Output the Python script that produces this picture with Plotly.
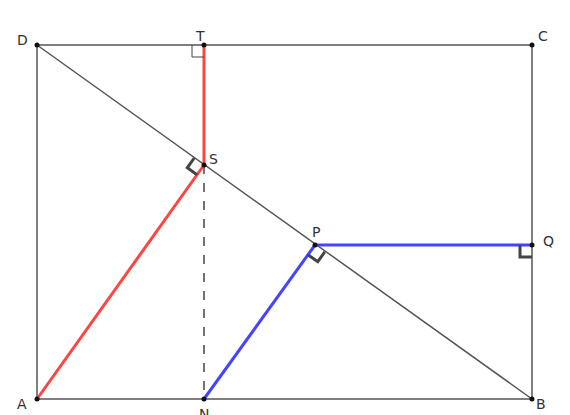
import numpy as np
import plotly.graph_objects as go

# --- Points (figure units, origin at A) ---
names = ["A", "B", "C", "D", "T", "S", "N", "P", "Q"]
xs = [0, 495, 495, 0, 167, 167, 167, 278, 495]
ys = [0, 0, 354, 354, 354, 234, 0, 154, 154]
pt = {n: np.array([x, y], float) for n, x, y in zip(names, xs, ys)}

gray_segs = [("A", "B"), ("B", "C"), ("C", "D"), ("D", "A"), ("D", "B")]
red_segs = [("A", "S"), ("S", "T")]
blue_segs = [("N", "P"), ("P", "Q")]
dash_segs = [("S", "N")]

# right angle markers: vertex, toward, toward, line width
right_angles = [("T", "D", "S", 1), ("S", "A", "D", 3), ("P", "N", "B", 3), ("Q", "P", "B", 3)]

# label offsets in pixels
label_pos = {"A": (-15, -5), "B": (9, -5), "C": (11, 9), "D": (-15, 5), "T": (-4, 9),
             "S": (9, 6), "N": (0, -15), "P": (1, 13), "Q": (16, 4)}

fig = go.Figure()


def add_segs(segs, color, width, dash="solid"):
    for a, b in segs:
        fig.add_trace(go.Scatter(x=[pt[a][0], pt[b][0]], y=[pt[a][1], pt[b][1]], mode="lines",
                                 line=dict(color=color, width=width, dash=dash), hoverinfo="skip"))


add_segs(gray_segs, "#555555", 1.5)
add_segs(dash_segs, "#444444", 1.5, "dash")
add_segs(red_segs, "#ff4444", 3)
add_segs(blue_segs, "#4444ff", 3)

s = 12
for v, a, b, w in right_angles:
    V = pt[v]
    u1 = (pt[a] - V) / np.linalg.norm(pt[a] - V)
    u2 = (pt[b] - V) / np.linalg.norm(pt[b] - V)
    poly = [V + s * u1, V + s * (u1 + u2), V + s * u2]
    fig.add_trace(go.Scatter(x=[p[0] for p in poly], y=[p[1] for p in poly], mode="lines",
                             line=dict(color="#444444", width=w), hoverinfo="skip"))

fig.add_trace(go.Scatter(x=xs, y=ys, mode="markers", marker=dict(color="#111111", size=5), hoverinfo="skip"))

for n in names:
    dx, dy = label_pos[n]
    fig.add_annotation(x=pt[n][0] + dx, y=pt[n][1] + dy, text=n, showarrow=False,
                       font=dict(size=14, color="#333333", family="DejaVu Sans"))

fig.update_layout(width=570, height=415, margin=dict(l=0, r=0, t=0, b=0), showlegend=False,
                  paper_bgcolor="white", plot_bgcolor="white")
fig.update_xaxes(range=[-29, 541], visible=False)
fig.update_yaxes(range=[-24, 391], visible=False)
fig.write_html("out.html")
